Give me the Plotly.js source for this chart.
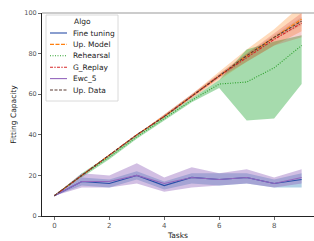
<!DOCTYPE html>
<html>
<head>
<meta charset="utf-8">
<script src="https://cdn.plot.ly/plotly-3.0.1.min.js"></script>
<style>html,body{margin:0;padding:0;background:#fff;}#chart{width:314px;height:241px;}</style>
</head>
<body>
<div id="chart"></div>
<script>
var tasks = [0, 1, 2, 3, 4, 5, 6, 7, 8, 9];

var fineTuning   = [10, 17, 16, 20, 15, 19, 18, 19, 16, 18];
var fineTuningLo = [10, 15, 14, 18, 13, 16, 15, 16, 14, 14];
var fineTuningHi = [10, 19, 18, 22, 17, 21, 21, 21, 18, 21];

var upModel   = [10, 20, 30, 40, 49, 59, 69, 79, 88, 97];
var upModelLo = [10, 20, 30, 40, 49, 58, 67, 76, 84, 91];
var upModelHi = [10, 20, 30, 40, 50, 60, 71, 82, 92, 104];

var rehearsal   = [10, 20, 29, 39, 48, 57, 65, 66, 73, 84];
var rehearsalLo = [10, 19, 28, 38, 47, 56, 63, 47, 48, 65];
var rehearsalHi = [10, 21, 30, 40, 49, 58, 67, 82, 86, 89];

var gReplay   = [10, 20, 30, 40, 49, 59, 69, 78, 87, 95];
var gReplayLo = [10, 20, 30, 40, 49, 58, 68, 76, 84, 88];
var gReplayHi = [10, 20, 30, 40, 50, 60, 70, 80, 90, 100];

var ewc5   = [10, 17, 17, 20, 16, 19, 18, 19, 16, 19];
var ewc5Lo = [10, 14, 14, 16, 12, 14, 15, 16, 14, 16];
var ewc5Hi = [10, 21, 20, 26, 19, 24, 21, 23, 19, 23];

var upData   = [10, 20, 30, 40, 49, 59, 69, 79, 88, 96];
var upDataLo = [10, 20, 30, 40, 49, 59, 68, 78, 87, 94];
var upDataHi = [10, 20, 30, 40, 50, 60, 70, 80, 89, 98];

var series = [
  {name: 'Fine tuning', y: fineTuning, lo: fineTuningLo, hi: fineTuningHi, color: '#2a4fa8', fill: 'rgba(31,119,180,0.35)', dash: 'solid'},
  {name: 'Up. Model', y: upModel, lo: upModelLo, hi: upModelHi, color: '#ff7f0e', fill: 'rgba(255,127,14,0.28)', dash: '4px,1.5px'},
  {name: 'Rehearsal', y: rehearsal, lo: rehearsalLo, hi: rehearsalHi, color: '#2ca02c', fill: 'rgba(44,170,60,0.42)', dash: '1px,1.5px'},
  {name: 'G_Replay', y: gReplay, lo: gReplayLo, hi: gReplayHi, color: '#d62728', fill: 'rgba(214,39,40,0.22)', dash: '3px,1.25px,1.5px,1.25px'},
  {name: 'Ewc_5', y: ewc5, lo: ewc5Lo, hi: ewc5Hi, color: '#9467bd', fill: 'rgba(148,103,189,0.42)', dash: 'solid'},
  {name: 'Up. Data', y: upData, lo: upDataLo, hi: upDataHi, color: '#5a3b33', fill: 'rgba(140,86,75,0.15)', dash: '3px,1.5px'}
];

var traces = [];
series.forEach(function (s) {
  traces.push({
    x: tasks.concat(tasks.slice().reverse()),
    y: s.hi.concat(s.lo.slice().reverse()),
    type: 'scatter', mode: 'lines', fill: 'toself',
    fillcolor: s.fill, line: {width: 0, color: s.fill},
    showlegend: false, hoverinfo: 'skip'
  });
});
series.forEach(function (s) {
  traces.push({
    x: tasks, y: s.y, name: s.name, showlegend: false,
    type: 'scatter', mode: 'lines',
    line: {color: s.color, width: 1.1, dash: s.dash}
  });
});

// Custom compact legend (matplotlib-like spacing), placed in paper coordinates
var W = 314, H = 241, ML = 42, MR = 0, MT = 13, MB = 25;
var PW = W - ML - MR, PH = H - MT - MB;
function px(x) { return (x - ML) / PW; }
function py(y) { return (H - MB - y) / PH; }

var shapes = [
  {type: 'line', xref: 'paper', yref: 'paper', x0: 0, x1: 1, y0: 1, y1: 1, line: {color: '#999', width: 1}},
  {type: 'rect', xref: 'paper', yref: 'paper', x0: px(46), x1: px(118), y0: py(101), y1: py(15),
   fillcolor: 'rgba(255,255,255,0.85)', line: {color: '#d0d0d0', width: 0.8}}
];
var annotations = [
  {xref: 'paper', yref: 'paper', x: px(82), y: py(22), text: 'Algo', showarrow: false,
   xanchor: 'center', yanchor: 'middle', font: {size: 7.5, color: '#222'}}
];
series.forEach(function (s, i) {
  var yy = 33 + 11.4 * i;
  shapes.push({type: 'line', xref: 'paper', yref: 'paper', x0: px(50), x1: px(67), y0: py(yy), y1: py(yy),
               line: {color: s.color, width: 1.1, dash: s.dash}});
  annotations.push({xref: 'paper', yref: 'paper', x: px(71), y: py(yy), text: s.name, showarrow: false,
                    xanchor: 'left', yanchor: 'middle', font: {size: 7.5, color: '#222'}});
});

var layout = {
  width: W, height: H,
  margin: {l: ML, r: MR, t: MT, b: MB},
  paper_bgcolor: '#fff', plot_bgcolor: '#fff',
  font: {family: 'DejaVu Sans, sans-serif', size: 7.5, color: '#333'},
  xaxis: {
    range: [-0.45, 9.45], tickvals: [0, 2, 4, 6, 8], ticks: 'outside', ticklen: 3, tickwidth: 0.8,
    showgrid: false, zeroline: false, showline: true, linecolor: '#222', linewidth: 1,
    title: {text: 'Tasks', font: {size: 7.5, color: '#222'}, standoff: 3},
    tickfont: {size: 7, color: '#555'}
  },
  yaxis: {
    range: [0, 100], tickvals: [0, 20, 40, 60, 80, 100], ticks: 'outside', ticklen: 3, tickwidth: 0.8,
    showgrid: false, zeroline: false, showline: true, linecolor: '#222', linewidth: 1,
    title: {text: 'Fitting Capacity', font: {size: 7.5, color: '#222'}, standoff: 6},
    tickfont: {size: 6.5, color: '#555'}
  },
  shapes: shapes,
  annotations: annotations,
  showlegend: false
};

Plotly.newPlot('chart', traces, layout, {displayModeBar: false, staticPlot: true});
</script>
</body>
</html>
